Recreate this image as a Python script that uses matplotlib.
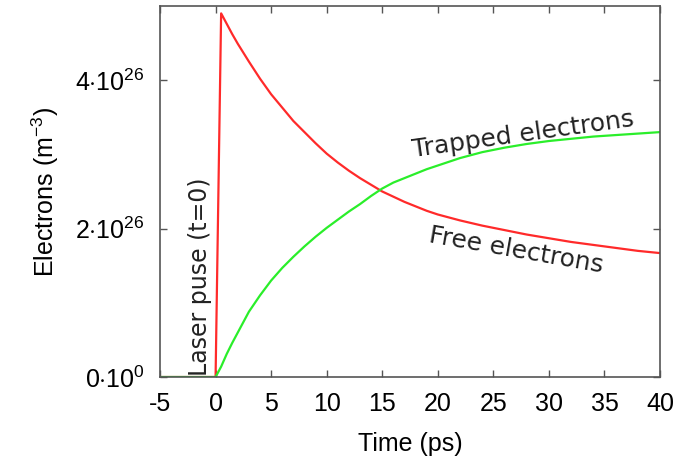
import numpy as np
import matplotlib
matplotlib.use('Agg')
import matplotlib.pyplot as plt

# Free and trapped electron densities after the laser pulse (units of 1e26 m^-3)
time_ps = [-5, 0, 0.5, 1, 1.5, 2, 3, 4, 5, 6, 7, 8, 9, 10, 11, 12, 13, 14, 15, 16,
           17, 18, 19, 20, 22, 24, 26, 28, 30, 32, 34, 36, 38, 40]
free_e = [0, 0, 4.90, 4.76, 4.62, 4.49, 4.25, 4.02, 3.81, 3.63, 3.45, 3.30, 3.15, 3.01,
          2.89, 2.78, 2.68, 2.59, 2.50, 2.43, 2.36, 2.30, 2.24, 2.19, 2.11, 2.04,
          1.98, 1.92, 1.87, 1.82, 1.78, 1.74, 1.70, 1.67]
trapped_e = [0, 0, 0.14, 0.31, 0.46, 0.60, 0.88, 1.10, 1.30, 1.47, 1.62, 1.76, 1.89, 2.01,
             2.12, 2.23, 2.33, 2.44, 2.54, 2.62, 2.68, 2.74, 2.80, 2.85, 2.95, 3.03,
             3.09, 3.14, 3.18, 3.21, 3.24, 3.26, 3.28, 3.30]

x_ticks = [-5, 0, 5, 10, 15, 20, 25, 30, 35, 40]
y_ticks = [0, 2e26, 4e26]
y_tick_labels = [r'$0{\cdot}10^{0}$', r'$2{\cdot}10^{26}$', r'$4{\cdot}10^{26}$']

plt.rcParams['font.family'] = ['Liberation Sans', 'DejaVu Sans']
plt.rcParams['mathtext.fontset'] = 'custom'
plt.rcParams['mathtext.rm'] = 'Liberation Sans'
plt.rcParams['mathtext.it'] = 'Liberation Sans:italic'
plt.rcParams['axes.unicode_minus'] = False

fig = plt.figure(figsize=(6.88, 4.57), dpi=100)
ax = fig.add_axes([0.2326, 0.175, 0.7267, 0.812])

t = np.array(time_ps)
ax.plot(t, np.array(free_e) * 1e26, color='#ff2a2a', lw=1.6)
ax.plot(t, np.array(trapped_e) * 1e26, color='#2aee2a', lw=1.6)

ax.set_xlim(-5, 40)
ax.set_ylim(0, 5e26)
ax.set_xticks(x_ticks)
ax.set_yticks(y_ticks)
ax.set_yticklabels(y_tick_labels)
ax.tick_params(direction='in', top=True, right=True, length=5, width=1,
               color='#555555', labelsize=18)
ax.tick_params(axis='x', pad=11)
ax.tick_params(axis='y', pad=11)
for s in ax.spines.values():
    s.set_color('#555555')
    s.set_linewidth(1.2)

ax.set_xlabel('Time (ps)', fontsize=18, labelpad=11)
ax.set_ylabel(r'Electrons (m$^{-3}$)', fontsize=18, labelpad=10)

ax.text(-1.4, 0.02e26, 'Laser puse (t=0)', rotation=90, fontsize=17,
        family='DejaVu Sans', ha='center', va='bottom', color='#222222')
ax.text(27.7, 3.27e26, 'Trapped electrons', rotation=8, fontsize=18,
        family='DejaVu Sans', ha='center', va='center', color='#222222',
        rotation_mode='anchor')
ax.text(27.1, 1.70e26, 'Free electrons', rotation=-10, fontsize=18,
        family='DejaVu Sans', ha='center', va='center', color='#222222',
        rotation_mode='anchor')

fig.savefig('out.png', dpi=100)
